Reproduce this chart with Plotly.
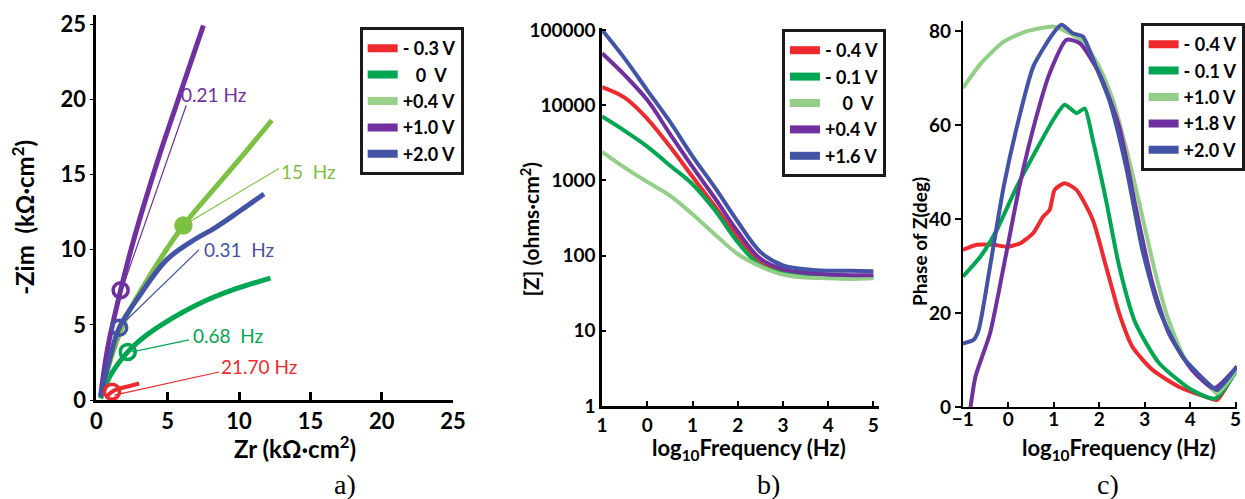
import plotly.graph_objects as go

FONT = "Lato"
RED, DGREEN, LGREEN_A, LGREEN, PURPLE, BLUE = "#ee2a2f", "#00a651", "#7dc142", "#93cf88", "#7030a0", "#4354a6"

# ---------------- panel a: Nyquist ----------------
a_labels = ["- 0.3 V", "\u00a0\u00a0\u00a00\u00a0\u00a0V", "+0.4 V", "+1.0 V", "+2.0 V"]
a_red_zr = [0.7, 1.1, 1.6, 2.2, 3.0]
a_red_zim = [0.2, 0.55, 0.75, 0.9, 1.1]
a_dg_zr = [0.3, 0.9, 2.2, 3.5, 4.9, 7.2, 9.5, 12.2]
a_dg_zim = [0.1, 1.5, 3.2, 4.3, 5.2, 6.4, 7.3, 8.1]
a_lg_zr = [0.3, 0.9, 2.1, 3.7, 6.1, 8.4, 10.2, 12.3]
a_lg_zim = [0.2, 2.4, 5.5, 8.2, 11.6, 14.2, 16.2, 18.6]
a_pu_zr = [0.3, 0.8, 1.7, 2.6, 3.6, 4.6, 5.6, 6.6, 7.5]
a_pu_zim = [0.3, 3.5, 7.3, 10.6, 13.8, 16.8, 19.6, 22.4, 24.9]
a_bl_zr = [0.3, 0.9, 1.6, 3.0, 4.9, 6.6, 8.4, 10.1, 11.75]
a_bl_zim = [0.2, 2.6, 4.8, 6.9, 9.3, 10.5, 11.5, 12.6, 13.7]
a_freq_labels = ["21.70 Hz", "0.68\u00a0\u00a0Hz", "15\u00a0\u00a0Hz", "0.21 Hz", "0.31\u00a0\u00a0Hz"]
a_mark_zr = [1.1, 2.2, 6.1, 1.7, 1.6]
a_mark_zim = [0.55, 3.2, 11.6, 7.3, 4.8]
a_label_zr = [8.6, 6.6, 12.8, 5.8, 7.4]
a_label_zim = [2.2, 4.3, 15.2, 20.3, 10.0]
a_lead_from = [(1.26, 0.33), (2.5, 3.2), (6.1, 11.6), (1.96, 7.8), (2.1, 5.3)]
a_lead_to = [(8.6, 1.86), (6.5, 4.0), (12.8, 15.4), (6.3, 19.6), (7.2, 10.0)]

# ---------------- panel b: Bode |Z| ----------------
b_labels = ["- 0.4 V", "- 0.1 V", "\u00a0\u00a0\u00a0\u00a00\u00a0\u00a0V", "+0.4 V", "+1.6 V"]
b_x = [-1, -0.5, 0, 0.5, 1, 1.5, 2, 2.5, 3, 3.5, 4, 4.5, 5]
b_red_x = [-1, -0.5, 0, 0.5, 1, 1.5, 2, 2.5, 3, 3.6]
b_red = [17400, 12600, 6600, 2820, 1120, 447, 174, 79, 62, 55]
b_dg = [7080, 4570, 2820, 1580, 890, 398, 151, 74, 58, 54, 52, 52, 52]
b_lg = [2400, 1480, 955, 630, 355, 190, 105, 72, 56, 51, 50, 49, 50]
b_pu = [49000, 25100, 11700, 4170, 1510, 575, 209, 91, 66, 59, 56, 55, 55]
b_bl = [100000, 41700, 15800, 6030, 2090, 794, 282, 112, 74, 66, 63, 63, 62]

# ---------------- panel c: Bode phase ----------------
c_labels = ["- 0.4 V", "- 0.1 V", "+1.0 V", "+1.8 V", "+2.0 V"]
c_red_x = [-1, -0.69, -0.32, -0.03, 0.26, 0.55, 0.77, 0.91, 1.02, 1.24, 1.5, 1.86, 2.15, 2.44, 2.73, 3.17, 3.75, 4.33, 4.59, 5.03]
c_red_y = [33.4, 34.5, 34.5, 34.1, 34.8, 37, 40.5, 41.9, 46.2, 47.6, 46.2, 39.8, 29.9, 19.9, 12.8, 7.9, 4.3, 2.2, 1.5, 8.6]
c_dg_x = [-1, -0.61, -0.25, 0.19, 0.62, 0.99, 1.24, 1.5, 1.68, 1.86, 2.15, 2.44, 2.8, 3.32, 4.04, 4.55, 5.03]
c_dg_y = [27.7, 32, 37.7, 46.9, 54.7, 61.1, 64.3, 62.5, 63.5, 56.8, 44, 29.9, 17.8, 9.3, 3.6, 1.8, 7.9]
c_lg_x = [-1, -0.6, -0.1, 0.4, 1.0, 1.2, 1.6, 2.0, 2.3, 2.6, 2.9, 3.2, 3.5, 3.9, 4.5, 4.6, 5.03]
c_lg_y = [67.8, 73.1, 77.7, 79.9, 80.9, 80.2, 78, 72.4, 65.3, 54.7, 42.6, 29.9, 19.2, 10, 3.6, 2.9, 7.9]
c_pu_x = [-0.83, -0.72, -0.4, -0.1, 0.26, 0.62, 0.91, 1.28, 1.57, 2.0, 2.44, 2.8, 3.17, 3.53, 4.04, 4.52, 5.03]
c_pu_y = [0, 6.5, 15.7, 29.9, 47.6, 61.8, 71, 78.1, 77.4, 71, 59.6, 42.6, 26.3, 15.7, 7.9, 4, 8.6]
c_bl_x = [-1, -0.76, -0.65, -0.4, -0.1, 0.19, 0.55, 0.99, 1.17, 1.42, 1.64, 1.93, 2.22, 2.59, 2.95, 3.32, 3.83, 4.48, 4.59, 5.03]
c_bl_y = [13.5, 14.3, 16.4, 29.9, 46.9, 59.6, 72.4, 79.5, 81.3, 79.5, 78.8, 72.4, 65.3, 51.1, 33.4, 20.6, 10.7, 4.3, 3.6, 8.6]

fig = go.Figure()

a_series = [(a_red_zr, a_red_zim, RED, 4), (a_dg_zr, a_dg_zim, DGREEN, 5),
            (a_lg_zr, a_lg_zim, LGREEN_A, 5), (a_pu_zr, a_pu_zim, PURPLE, 5),
            (a_bl_zr, a_bl_zim, BLUE, 5)]
a_leg_cols = [RED, DGREEN, "#9ad18b", PURPLE, BLUE]
for (xs, ys, col, w) in a_series:
    fig.add_trace(go.Scatter(x=xs, y=ys, mode="lines", line=dict(color=col, width=w, shape="spline"),
                             showlegend=False, xaxis="x", yaxis="y"))
a_mark_cols = [RED, DGREEN, LGREEN_A, PURPLE, BLUE]
a_mark_sym = ["circle-open", "circle-open", "circle", "circle-open", "circle-open"]
for i in range(5):
    fig.add_trace(go.Scatter(x=[a_mark_zr[i]], y=[a_mark_zim[i]], mode="markers", showlegend=False,
                             marker=dict(symbol=a_mark_sym[i], size=15, color=a_mark_cols[i],
                                         line=dict(width=3.5, color=a_mark_cols[i])),
                             xaxis="x", yaxis="y"))

b_series = [(b_red_x, b_red, RED), (b_x, b_dg, DGREEN), (b_x, b_lg, LGREEN),
            (b_x, b_pu, PURPLE), (b_x, b_bl, BLUE)]
for (xs, ys, col) in b_series:
    fig.add_trace(go.Scatter(x=xs, y=ys, mode="markers", showlegend=False,
                             marker=dict(symbol="triangle-up-open", size=6, color="rgba(0,0,0,0)",
                                         line=dict(width=1, color="#888888")),
                             xaxis="x2", yaxis="y2"))
for (xs, ys, col) in b_series:
    fig.add_trace(go.Scatter(x=xs, y=ys, mode="lines", line=dict(color=col, width=4, shape="spline"),
                             showlegend=False, xaxis="x2", yaxis="y2"))

c_series = [(c_red_x, c_red_y, RED, "square-open"), (c_dg_x, c_dg_y, DGREEN, "triangle-up-open"),
            (c_lg_x, c_lg_y, LGREEN, "x-thin-open"), (c_pu_x, c_pu_y, PURPLE, "circle-open"),
            (c_bl_x, c_bl_y, BLUE, "x-thin-open")]
for (xs, ys, col, sym) in c_series:
    fig.add_trace(go.Scatter(x=xs, y=ys, mode="markers", showlegend=False,
                             marker=dict(symbol=sym, size=8, color="rgba(0,0,0,0)",
                                         line=dict(width=1, color="#444444")),
                             xaxis="x4", yaxis="y3"))
for (xs, ys, col, sym) in c_series:
    fig.add_trace(go.Scatter(x=xs, y=ys, mode="lines", line=dict(color=col, width=4, shape="spline", smoothing=0.6),
                             showlegend=False, xaxis="x3", yaxis="y3"))

def legend_entries(labels, cols, leg, xa, ya):
    for lab, col in zip(labels, cols):
        fig.add_trace(go.Scatter(x=[None], y=[None], mode="lines", name=lab, legend=leg,
                                 line=dict(color=col, width=8), xaxis=xa, yaxis=ya))

legend_entries(a_labels, a_leg_cols, "legend", "x", "y")
legend_entries(b_labels, [RED, DGREEN, LGREEN, PURPLE, BLUE], "legend2", "x2", "y2")
legend_entries(c_labels, [RED, DGREEN, LGREEN, PURPLE, BLUE], "legend3", "x3", "y3")

W, H = 1245, 499
bold_a = dict(family=FONT, size=22, color="black", weight="bold")
bold = dict(family=FONT, size=19, color="black", weight="bold")
base = dict(showgrid=False, zeroline=False, showline=True, linecolor="black", mirror=False,
            tickcolor="black", automargin=False)

legend_common = dict(bgcolor="white", bordercolor="#1a1a1a", borderwidth=3,
                     font=dict(family=FONT, size=18, color="black", weight="bold"),
                     xanchor="left", yanchor="top", itemwidth=30, tracegroupgap=0)

shapes = []
for (x0, y0), (x1, y1), col in zip(a_lead_from, a_lead_to, a_mark_cols):
    shapes.append(dict(type="line", xref="x", yref="y", x0=x0, y0=y0, x1=x1, y1=y1,
                       line=dict(color=col, width=1.2)))

annotations = []
for t, xx, yy, col in zip(a_freq_labels, a_label_zr, a_label_zim, a_mark_cols):
    annotations.append(dict(text=t, x=xx, y=yy, xref="x", yref="y", showarrow=False,
                            xanchor="left", yanchor="middle",
                            font=dict(family=FONT, size=19, color=col)))

def pa(text, px, py, size, rot=0, weight="bold", family=FONT):
    return dict(text=text, x=px / W, y=1 - py / H, xref="paper", yref="paper", showarrow=False,
                xanchor="center", yanchor="middle", textangle=rot,
                font=dict(family=family, size=size, color="black", weight=weight))

annotations += [
    pa("-Zim\u00a0\u00a0(kΩ·cm<sup>2</sup>)", 23, 217, 24, -90),
    pa("Zr (kΩ·cm<sup>2</sup>)", 297, 447, 24),
    pa("[Z] (ohms·cm<sup>2</sup>)", 533, 229, 21, -90),
    pa("log<sub>10</sub>Frequency (Hz)", 754, 449, 22),
    pa("Phase of Z(deg)", 925, 242, 19, -90),
    pa("log<sub>10</sub>Frequency (Hz)", 1126, 449, 22),
    pa("a)", 347, 484, 28, weight="normal", family="Liberation Serif"),
    pa("b)", 773, 484, 28, weight="normal", family="Liberation Serif"),
    pa("c)", 1115, 484, 28, weight="normal", family="Liberation Serif"),
]

c_xdom = [969 / W, 1.0]
fig.update_layout(
    width=W, height=H, margin=dict(l=0, r=0, t=0, b=0, pad=0), autosize=False,
    paper_bgcolor="white", plot_bgcolor="white",
    xaxis=dict(domain=[97 / W, 456 / W], range=[0, 25], tickvals=[0, 5, 10, 15, 20, 25],
               ticks="inside", ticklen=8, tickwidth=3, linewidth=3, anchor="y", tickfont=bold_a, **base),
    yaxis=dict(domain=[1 - 400 / H, 1 - 15 / H], range=[0, 25.6], tickvals=[0, 5, 10, 15, 20, 25],
               ticks="outside", ticklen=3, tickwidth=1, linewidth=3, anchor="x", tickfont=bold_a, **base),
    xaxis2=dict(domain=[606 / W, 884.5 / W], range=[-1, 5.12], tickvals=[-1, 0, 1, 2, 3, 4, 5],
                ticktext=["1", "0", "1", "2", "3", "4", "5"],
                ticks="inside", ticklen=5, tickwidth=2, linewidth=2.5, anchor="y2", tickfont=bold, **base),
    yaxis2=dict(domain=[1 - 406 / H, 1 - 28 / H], type="log", range=[0, 5.027],
                tickvals=[1, 10, 100, 1000, 10000, 100000],
                ticktext=["1", "10", "100", "1000", "10000", "100000"],
                ticks="inside", ticklen=4, tickwidth=2, linewidth=2.5, anchor="x2", tickfont=bold, **base),
    xaxis3=dict(domain=c_xdom, range=[-1, 5.03], tickvals=[-1, 0, 1, 2, 3, 4, 5],
                showticklabels=False,
                ticks="inside", ticklen=5, tickwidth=2, linewidth=2, anchor="y3", **base),
    xaxis4=dict(domain=c_xdom, range=[-1, 5.03], tickvals=[-1, 0, 1, 2, 3, 4, 5],
                overlaying="x3", anchor="free", position=1 - 406 / H, ticks="", side="bottom",
                showgrid=False, zeroline=False, showline=False, tickfont=bold, automargin=False),
    yaxis3=dict(domain=[1 - 407 / H, 1 - 21 / H], range=[0, 82.1], tickvals=[0, 20, 40, 60, 80],
                ticks="outside", ticklen=6, tickwidth=2, linewidth=2, anchor="x3", tickfont=bold, **base),
    legend=dict(x=362 / W, y=1 - 27 / H, **legend_common),
    legend2=dict(x=787 / W, y=1 - 29 / H, **legend_common),
    legend3=dict(x=1148 / W, y=1 - 23 / H, **legend_common),
    shapes=shapes, annotations=annotations, showlegend=True,
)

fig.write_html("out.html", config={"displayModeBar": False, "responsive": False},
               post_script="document.body.style.margin='0';document.body.style.overflow='hidden';"
                           "Plotly.relayout(document.getElementById('{plot_id}'), {width: 1245, height: 499});")
